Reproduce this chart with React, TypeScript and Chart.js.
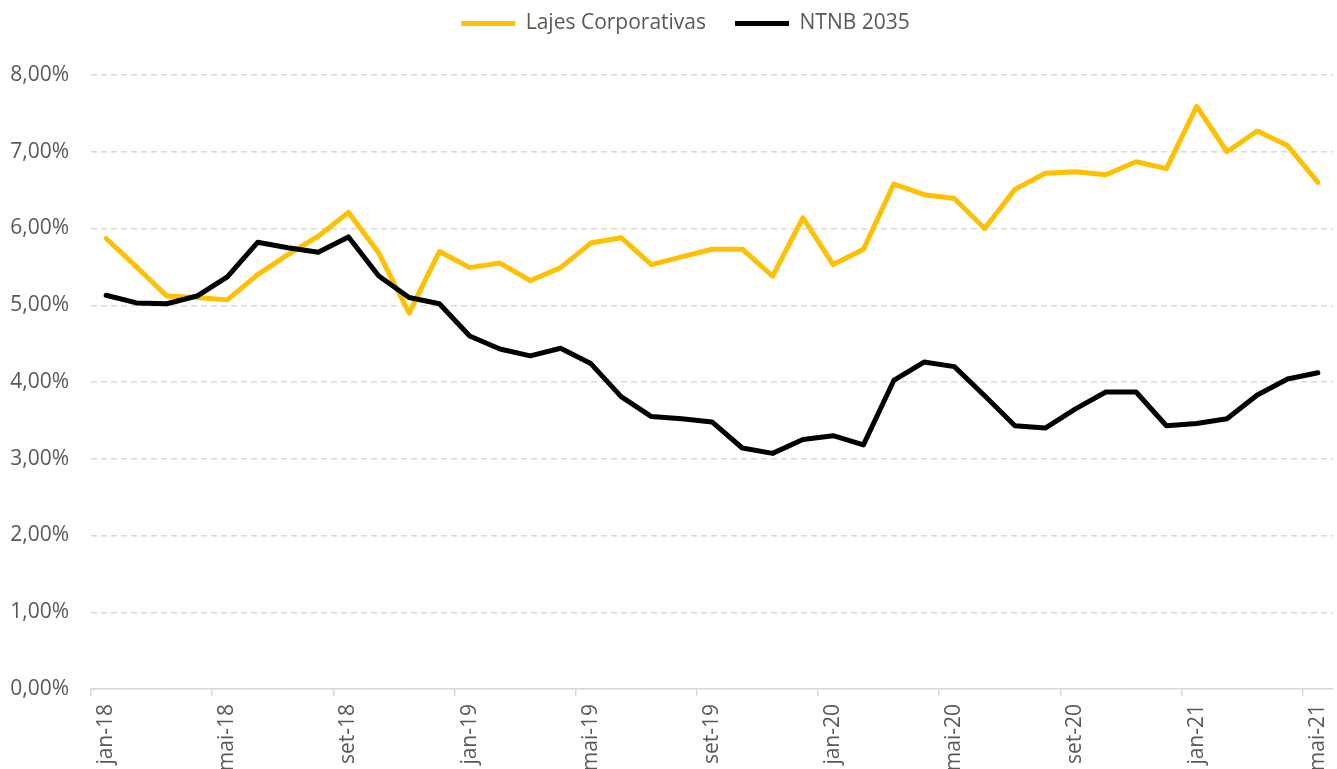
import React, { useEffect, useRef } from "react";
import { Chart, registerables } from "chart.js";

Chart.register(...registerables);

const months: string[] = [
  "jan-18", "fev-18", "mar-18", "abr-18", "mai-18", "jun-18", "jul-18", "ago-18", "set-18", "out-18", "nov-18", "dez-18",
  "jan-19", "fev-19", "mar-19", "abr-19", "mai-19", "jun-19", "jul-19", "ago-19", "set-19", "out-19", "nov-19", "dez-19",
  "jan-20", "fev-20", "mar-20", "abr-20", "mai-20", "jun-20", "jul-20", "ago-20", "set-20", "out-20", "nov-20", "dez-20",
  "jan-21", "fev-21", "mar-21", "abr-21", "mai-21",
];

const lajesCorporativas: number[] = [
  5.87, 5.5, 5.12, 5.1, 5.07, 5.4, 5.66, 5.9, 6.21, 5.68,
  4.9, 5.7, 5.49, 5.55, 5.32, 5.49, 5.81, 5.88, 5.53, 5.63,
  5.73, 5.73, 5.38, 6.14, 5.53, 5.73, 6.58, 6.44, 6.39, 6.0,
  6.51, 6.72, 6.74, 6.7, 6.87, 6.78, 7.59, 7.0, 7.27, 7.08,
  6.6,
];

const ntnb2035: number[] = [
  5.13, 5.03, 5.02, 5.12, 5.37, 5.82, 5.75, 5.69, 5.89, 5.38,
  5.1, 5.02, 4.6, 4.43, 4.34, 4.44, 4.24, 3.81, 3.55, 3.52,
  3.48, 3.14, 3.07, 3.25, 3.3, 3.18, 4.02, 4.26, 4.2, 3.82,
  3.43, 3.4, 3.65, 3.87, 3.87, 3.43, 3.46, 3.52, 3.83, 4.04,
  4.12,
];

const seriesNames: string[] = ["Lajes Corporativas", "NTNB 2035"];
const seriesColors: string[] = ["#FFC000", "#000000"];

const TEXT = "#595959";
const GRID = "#D9D9D9";
const FONT = "'Open Sans', 'Noto Sans', sans-serif";
const FONT_SIZE = 21;

const legendSpacer = {
  id: "legendSpacer",
  beforeLayout(chart: any) {
    const legend = chart.legend;
    if (legend && !legend.__patched) {
      const orig = legend.fit;
      legend.fit = function () {
        orig.call(this);
        this.height += 31;
      };
      legend.__patched = true;
    }
  },
  afterLayout(chart: any) {
    const legend = chart.legend;
    if (legend) {
      legend.left += 38;
    }
  },
};

export default function App() {
  const canvasRef = useRef<HTMLCanvasElement | null>(null);

  useEffect(() => {
    const canvas = canvasRef.current;
    if (!canvas) return;
    const chart = new Chart(canvas, {
      type: "line",
      data: {
        labels: months,
        datasets: [
          {
            label: seriesNames[0],
            data: lajesCorporativas,
            borderColor: seriesColors[0],
            backgroundColor: seriesColors[0],
            borderWidth: 5,
            pointRadius: 0,
            tension: 0,
            borderCapStyle: "round",
            borderJoinStyle: "round",
            order: 1,
          },
          {
            label: seriesNames[1],
            data: ntnb2035,
            borderColor: seriesColors[1],
            backgroundColor: seriesColors[1],
            borderWidth: 5,
            pointRadius: 0,
            tension: 0,
            borderCapStyle: "round",
            borderJoinStyle: "round",
            order: 0,
          },
        ],
      },
      plugins: [legendSpacer],
      options: {
        responsive: false,
        animation: false,
        layout: { padding: { top: -16, right: 4, left: 0, bottom: 0 } },
        plugins: {
          tooltip: { enabled: false },
          legend: {
            display: true,
            position: "top",
            labels: {
              usePointStyle: true,
              pointStyle: "line",
              pointStyleWidth: 54,
              padding: 29,
              color: TEXT,
              font: { family: FONT, size: FONT_SIZE },
              sort: (a: any, b: any) => a.datasetIndex - b.datasetIndex,
            },
          },
        },
        scales: {
          x: {
            type: "category",
            offset: true,
            grid: {
              offset: true,
              drawOnChartArea: false,
              drawTicks: true,
              tickLength: 7,
              lineWidth: 1.5,
              color: (ctx: any) => (ctx.index % 4 === 0 ? GRID : "rgba(0,0,0,0)"),
            },
            border: { display: true, color: GRID, width: 1.5 },
            ticks: {
              autoSkip: false,
              maxRotation: 90,
              minRotation: 90,
              padding: 8,
              color: TEXT,
              font: { family: FONT, size: FONT_SIZE },
              callback: (_v: any, i: number) => (i % 4 === 0 ? months[i] : ""),
            },
            afterFit: (scale: any) => {
              scale.height = 80;
              scale.paddingLeft = 0;
              scale.paddingRight = 0;
            },
          },
          y: {
            min: 0,
            max: 8,
            ticks: {
              stepSize: 1,
              padding: 22,
              color: TEXT,
              font: { family: FONT, size: FONT_SIZE },
              callback: (v: any) => Number(v).toFixed(2).replace(".", ",") + "%",
            },
            grid: {
              color: GRID,
              lineWidth: 1.5,
              drawTicks: false,
            },
            border: { display: false, dash: [6, 4] },
            afterFit: (scale: any) => {
              scale.width = 91;
              scale.paddingTop = 0;
              scale.paddingBottom = 0;
            },
          },
        },
      },
    });
    return () => chart.destroy();
  }, []);

  return (
    <div style={{ position: "fixed", left: 0, top: 0, width: 1337, height: 769, background: "#fff" }}>
      <canvas ref={canvasRef} width={1337} height={769} />
    </div>
  );
}
